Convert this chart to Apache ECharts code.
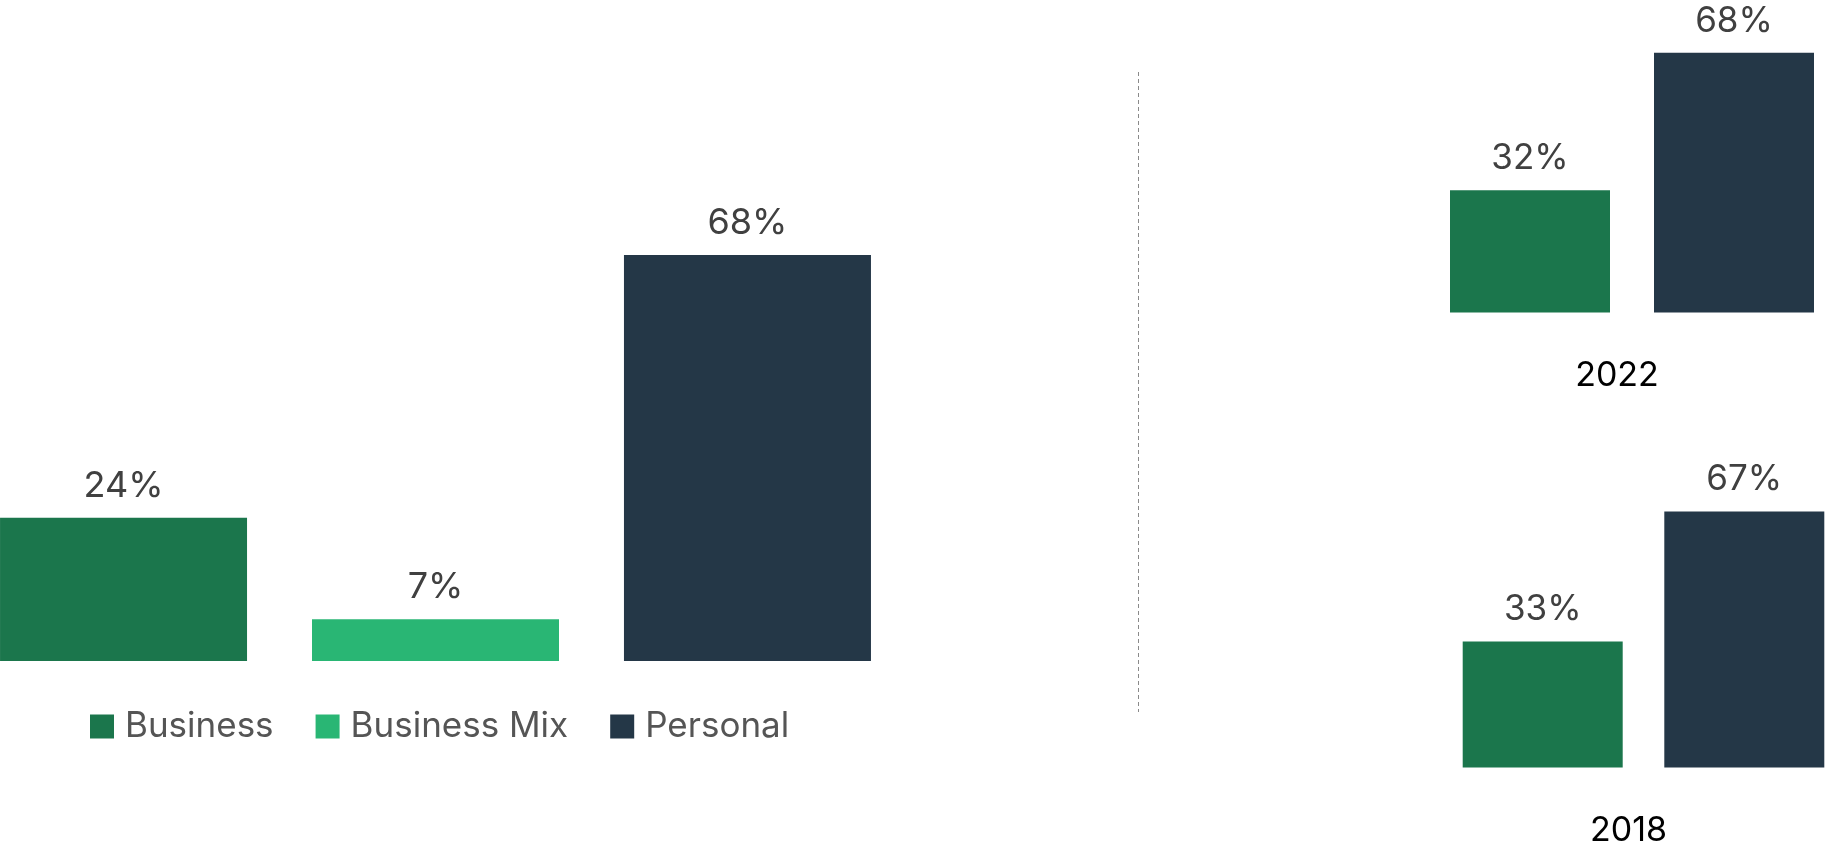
<!DOCTYPE html>
<html>
<head>
<meta charset="utf-8">
<script src="https://cdn.jsdelivr.net/npm/echarts@6/dist/echarts.min.js"></script>
<style>
  html, body { margin: 0; padding: 0; background: #fff; }
  #chart { width: 1825px; height: 850px; }
</style>
</head>
<body>
<div id="chart"></div>
<script>
// --- data ---
const seriesNames = ['Business', 'Business Mix', 'Personal'];
const overallValues = [24, 7, 68];
const years = ['2022', '2018'];
const businessByYear = [32, 33];
const personalByYear = [68, 67];

// --- colours ---
const COLORS = {
  business: '#1b764c',
  mix: '#29b674',
  personal: '#243747',
  label: '#404040',
  legend: '#555555'
};
const FONT = 'Inter';

const chart = echarts.init(document.getElementById('chart'));

const labelStyle = (size) => ({
  show: true,
  position: 'top',
  distance: 14,
  color: COLORS.label,
  fontFamily: FONT,
  fontSize: size,
  formatter: '{c}%'
});

const hiddenY = (max) => ({
  type: 'value', min: 0, max: max,
  show: false, splitLine: { show: false }
});

// left panel: one grid with three series side by side
const grids = [
  { left: 0, top: 64, width: 871, height: 597 },
  { left: 1450, top: 45, width: 364, height: 267.5 },
  { left: 1462, top: 500, width: 363, height: 267.5 }
];

const xAxes = [
  { type: 'category', gridIndex: 0, data: [''], show: false },
  ...years.map((y, i) => ({
    type: 'category', gridIndex: i + 1, data: [y],
    axisLine: { show: false }, axisTick: { show: false },
    axisLabel: {
      margin: 46, color: '#000', fontFamily: FONT, fontSize: 34,
      padding: [0, 30, 0, 0]
    }
  }))
];

const yAxes = [
  Object.assign({ gridIndex: 0 }, hiddenY(100)),
  ...years.map((y, i) => Object.assign({ gridIndex: i + 1 }, hiddenY(70)))
];

const series = [
  ...seriesNames.map((name, i) => ({
    name: name,
    type: 'bar',
    xAxisIndex: 0, yAxisIndex: 0,
    data: [overallValues[i]],
    barWidth: 247,
    barGap: '26.3%',
    itemStyle: { color: [COLORS.business, COLORS.mix, COLORS.personal][i] },
    label: labelStyle(36)
  }))
];

years.forEach((y, i) => {
  series.push({
    name: 'Business', type: 'bar',
    xAxisIndex: i + 1, yAxisIndex: i + 1,
    data: [businessByYear[i]],
    barWidth: 160, barGap: i === 0 ? '27.5%' : '26%',
    itemStyle: { color: COLORS.business },
    label: labelStyle(35)
  });
  series.push({
    name: 'Personal', type: 'bar',
    xAxisIndex: i + 1, yAxisIndex: i + 1,
    data: [personalByYear[i]],
    barWidth: 160, barGap: i === 0 ? '27.5%' : '26%',
    itemStyle: { color: COLORS.personal },
    label: labelStyle(35)
  });
});

const option = {
  backgroundColor: '#fff',
  animation: false,
  grid: grids,
  xAxis: xAxes,
  yAxis: yAxes,
  legend: {
    data: seriesNames,
    left: 90,
    top: 709,
    padding: 0,
    icon: 'rect',
    itemWidth: 24,
    itemHeight: 24,
    itemGap: 42,
    selectedMode: false,
    textStyle: {
      color: COLORS.legend,
      fontFamily: FONT,
      fontSize: 35,
      padding: [0, 0, 0, 6]
    }
  },
  // divider between the two panels
  graphic: [{
    type: 'line',
    shape: { x1: 1138.5, y1: 72, x2: 1138.5, y2: 712 },
    style: { stroke: '#8a8a8a', lineWidth: 1, lineDash: [4, 3] }
  }],
  series: series
};

chart.setOption(option);
</script>
</body>
</html>
